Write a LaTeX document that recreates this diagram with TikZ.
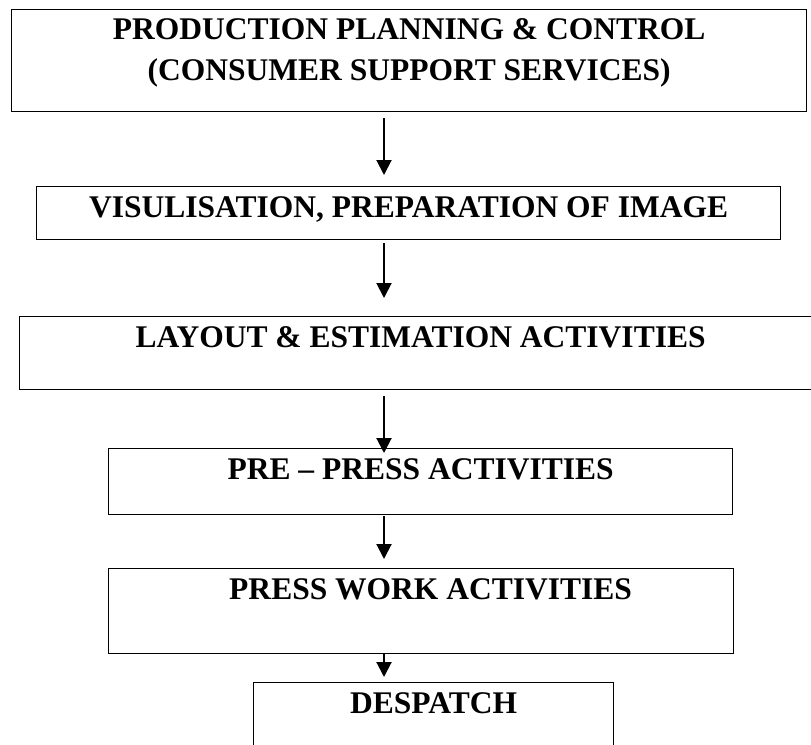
\documentclass[tikz,border=0pt]{standalone}
\usepackage{fontspec}
\setmainfont{Liberation Serif}
\usetikzlibrary{arrows.meta}
\newcommand{\px}{0.03cm}

\begin{document}
\begin{tikzpicture}[x=\px, y=-\px,
    stage/.style={draw, rectangle, anchor=north west, line width=1.1pt, inner sep=0pt, align=center, text height=31*\px, font=\fontsize{26.9pt}{35pt}\selectfont\bfseries},
    flow/.style={-{Triangle[length=0.45cm, width=0.45cm]}, line width=1.7pt}]
    \useasboundingbox (0,0) rectangle (811,744);
    \clip (0,0) rectangle (811,744);

    % Stages
    \node[stage, minimum width=795*\px, text height=71*\px, text depth=31*\px] (ppc) at (11,9) {PRODUCTION PLANNING \& CONTROL\\(CONSUMER SUPPORT SERVICES)};
    \node[stage, minimum width=744*\px, text depth=22*\px] (image) at (36,186) {VISULISATION, PREPARATION OF IMAGE};
    \node[stage, minimum width=802*\px, text depth=42*\px] (layout) at (19,316) {LAYOUT \& ESTIMATION ACTIVITIES};
    \node[stage, minimum width=624*\px, text depth=35*\px] (prepress) at (108,448) {PRE -- PRESS ACTIVITIES};
    \node[stage, minimum width=625*\px, text depth=54*\px] (presswork) at (108,568) {\hspace*{0.57cm}PRESS WORK ACTIVITIES};
    \node[stage, minimum width=360*\px, text depth=57*\px] (despatch) at (253,682) {DESPATCH};

    % Arrows
    \coordinate (axis) at (384,0);
    \draw[flow, shorten <=6*\px, shorten >=11*\px] (ppc.south -| axis) -- (image.north -| axis);
    \draw[flow, shorten <=3*\px, shorten >=18*\px] (image.south -| axis) -- (layout.north -| axis);
    \draw[flow, shorten <=6*\px, shorten >=-5*\px] (layout.south -| axis) -- (prepress.north -| axis);
    \draw[flow, shorten <=1*\px, shorten >=9*\px] (prepress.south -| axis) -- (presswork.north -| axis);
    \draw[flow, shorten <=-1*\px, shorten >=5*\px] (presswork.south -| axis) -- (despatch.north -| axis);
\end{tikzpicture}
\end{document}
